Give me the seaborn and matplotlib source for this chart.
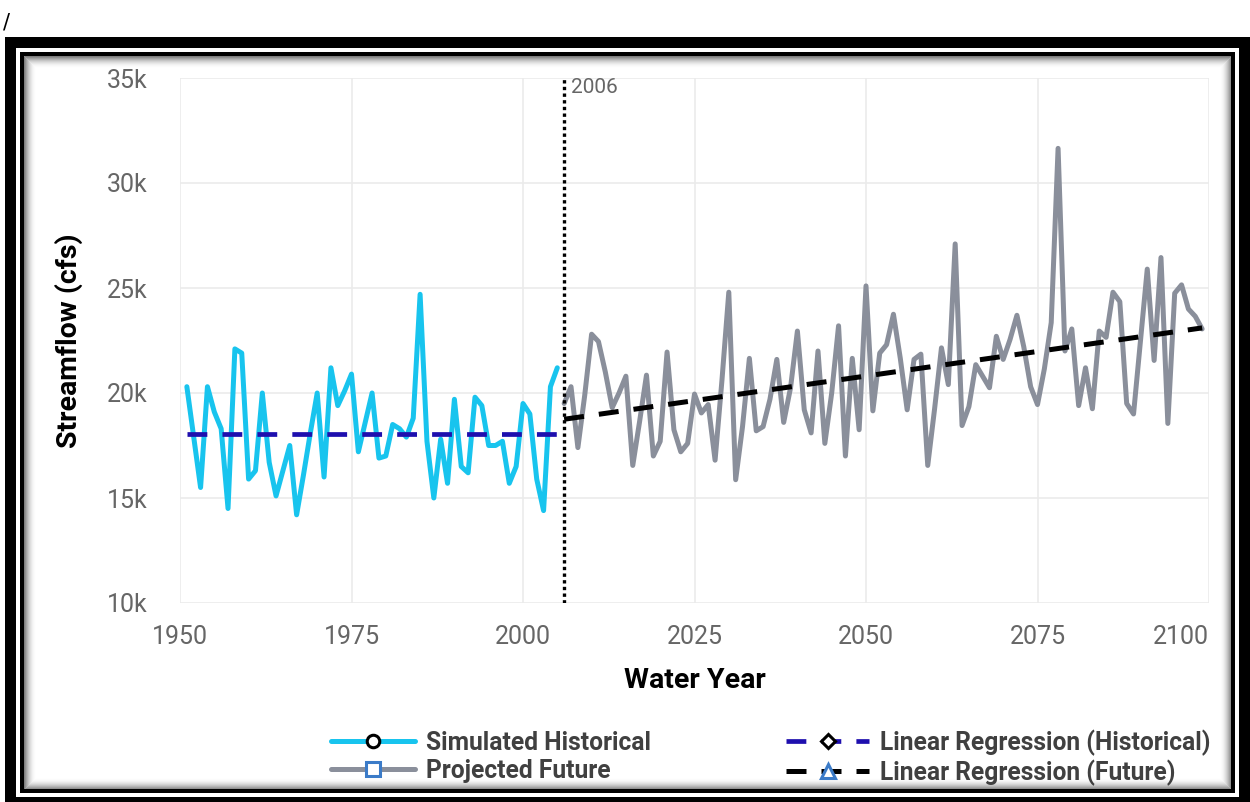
import matplotlib
matplotlib.use("Agg")
import matplotlib.pyplot as plt
from matplotlib.lines import Line2D
from matplotlib.patches import Rectangle
from matplotlib.ticker import FuncFormatter
import seaborn as sns

# ---- data -------------------------------------------------------------
hist_years = list(range(1951, 2006))
hist_flow = [
    20300, 17900, 15500, 20300, 19100, 18300, 14500, 22100, 21900, 15900,
    16300, 20000, 16700, 15100, 16300, 17500, 14200, 16100, 18100, 20000,
    16000, 21200, 19400, 20100, 20900, 17200, 18600, 20000, 16900, 17000,
    18500, 18300, 17900, 18800, 24700, 17700, 15000, 17800, 15700, 19700,
    16500, 16200, 19800, 19400, 17500, 17500, 17700, 15700, 16500, 19500,
    19000, 15900, 14400, 20300, 21200,
]

fut_years = list(range(2006, 2100))
fut_flow = [
    19500, 20300, 17400, 19900, 22800, 22450, 21000, 19300, 20000, 20800,
    16550, 18650, 20850, 17000, 17700, 21950, 18250, 17200, 17600, 19950,
    19050, 19450, 16800, 20600, 24800, 15870, 18400, 21650, 18200, 18400,
    19700, 21600, 18600, 20250, 22950, 19200, 18100, 22000, 17600, 20000,
    23200, 17000, 21650, 18250, 25100, 19150, 21900, 22300, 23750, 21650,
    19200, 21600, 21850, 16550, 19250, 22150, 20400, 27100, 18450, 19350,
    21350, 20800, 20250, 22700, 21600, 22550, 23700, 22200, 20300, 19450,
    21150, 23350, 31650, 22000, 23050, 19400, 21200, 19250, 22950, 22650,
    24800, 24350, 19500, 19000, 22450, 25900, 21550, 26450, 18550, 24750,
    25150, 24000, 23650, 23050,
]

hist_trend_years = [1951, 2005]
hist_trend = [18050, 18050]
fut_trend_years = [2006, 2099]
fut_trend = [18750, 23100]

split_year = 2006
x_ticks = [1950, 1975, 2000, 2025, 2050, 2075, 2100]
y_ticks = [10000, 15000, 20000, 25000, 30000, 35000]
legend_labels = [
    "Simulated Historical",
    "Projected Future",
    "Linear Regression (Historical)",
    "Linear Regression (Future)",
]

# ---- style ------------------------------------------------------------
CYAN = "#18c4ee"
GRAY = "#8a8f9b"
NAVY = "#1e0fae"
MARK_BLUE = "#3b7bc8"
TICK_GRAY = "#666666"

sns.set_theme(style="white")
plt.rcParams["font.family"] = ["Roboto", "DejaVu Sans"]

W, H = 1250, 802
fig = plt.figure(figsize=(W / 100, H / 100), dpi=100)
fig.patch.set_facecolor("white")

# ---- double black frame with a soft inner shadow ----------------------
bg = fig.add_axes([0, 0, 1, 1], zorder=-10)
bg.set_xlim(0, W)
bg.set_ylim(H, 0)
bg.axis("off")
bg.add_patch(Rectangle((5, 37), W - 5, H - 37 + 5, fc="black", lw=0))
bg.add_patch(Rectangle((16, 48), 1223, 749, fc="white", lw=0))
bg.add_patch(Rectangle((19.5, 51.5), 1215.5, 741.5, fc="black", lw=0))
bg.add_patch(Rectangle((23.5, 55.5), 1207.5, 733.5, fc="white", lw=0))
n_shade = 12
for i in range(n_shade):
    a = 0.5 * (1 - i / n_shade) ** 2
    bg.add_patch(Rectangle((24 + i, 56 + i), 1206.5 - 2 * i, 732.5 - 2 * i,
                           fill=False, ec=(0, 0, 0, a), lw=0.75))

fig.text(3 / W, 1 - 22 / H, "/", fontsize=15, color="black",
         ha="left", va="center", family="DejaVu Sans")

# ---- main chart -------------------------------------------------------
ax = fig.add_axes([180 / W, 1 - 603 / H, 1029 / W, 525 / H])
ax.set_facecolor("white")
for s in ax.spines.values():
    s.set_visible(False)
ax.grid(True, color="#ebebeb", lw=1.2)
ax.set_axisbelow(True)

sns.lineplot(x=hist_years, y=hist_flow, ax=ax, color=CYAN, lw=3.6,
             errorbar=None, legend=False, zorder=3)
sns.lineplot(x=fut_years, y=fut_flow, ax=ax, color=GRAY, lw=3.6,
             errorbar=None, legend=False, zorder=3)
sns.lineplot(x=hist_trend_years, y=hist_trend, ax=ax, color=NAVY, lw=3.4,
             linestyle=(0, (4.2, 3.2)), errorbar=None, legend=False, zorder=4)
sns.lineplot(x=fut_trend_years, y=fut_trend, ax=ax, color="black", lw=3.6,
             linestyle=(0, (4.0, 3.0)), errorbar=None, legend=False, zorder=4)

ax.axvline(split_year, color="black", lw=2.4, linestyle=(0, (1, 1)), zorder=5)
ax.annotate(str(split_year), xy=(split_year, 1), xycoords=("data", "axes fraction"),
            xytext=(5, -11), textcoords="offset points", ha="left",
            va="baseline", color=TICK_GRAY, fontsize=15)

ax.set_xlim(1950, 2100)
ax.set_ylim(10000, 35000)
ax.set_xticks(x_ticks)
ax.set_yticks(y_ticks)
ax.yaxis.set_major_formatter(FuncFormatter(lambda v, _: f"{v / 1000:.0f}k"))
ax.tick_params(axis="both", length=0, labelsize=18, labelcolor=TICK_GRAY)
ax.tick_params(axis="x", pad=16)
ax.tick_params(axis="y", pad=23)
# keep the last year label inside the plotting area
ax.get_xticklabels()[-1].set_horizontalalignment("right")

ax.set_xlabel("Water Year", fontsize=20.5, fontweight="bold", color="black")
ax.set_ylabel("Streamflow (cfs)", fontsize=20.5, fontweight="bold", color="black")
ax.xaxis.set_label_coords(0.5, -0.122)
ax.yaxis.set_label_coords(-0.094, 0.5)

# ---- legend -----------------------------------------------------------
handles = [
    Line2D([], [], color=CYAN, lw=3.6, marker="o", ms=9, mfc="white",
           mec="black", mew=2.2),
    Line2D([], [], color=GRAY, lw=3.6, marker="s", ms=9.5, mfc="white",
           mec=MARK_BLUE, mew=2.2),
    Line2D([], [], color=NAVY, lw=3.4, linestyle=(0, (4.2, 3.2)), marker="D",
           ms=7, mfc="white", mec="black", mew=2.2),
    Line2D([], [], color="black", lw=3.6, linestyle=(0, (4.0, 3.0)), marker="^",
           ms=9.5, mfc="white", mec=MARK_BLUE, mew=2.2),
]
fig.legend(handles, legend_labels, ncol=2, loc="center left",
           bbox_to_anchor=(331 / W, 1 - 757.5 / H), frameon=False,
           prop=dict(size=17.7, weight="bold"), labelcolor="#404040",
           handlelength=3.4, handletextpad=0.45, columnspacing=5.5,
           labelspacing=0.16, borderpad=0, borderaxespad=0)

fig.savefig("out.png", dpi=100, facecolor="white")
